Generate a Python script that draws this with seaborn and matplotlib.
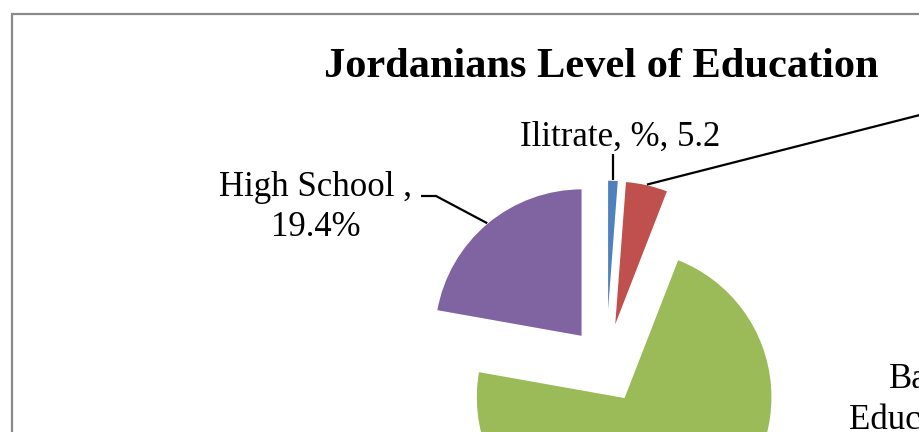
import numpy as np
import matplotlib
matplotlib.use("Agg")
import matplotlib.pyplot as plt
import seaborn as sns
from matplotlib.patches import Rectangle

# Data (slice sizes, labels as printed in the chart)
categories = ["Ilitrate", "Read & Write", "Basic Education", "High School"]
values = [1.2, 4.7, 71.9, 22.2]
label_texts = ["Ilitrate, %, 5.2", None, "Basic\nEducation ,", "High School ,\n19.4%"]
colors = ["#4F81BD", "#C0504D", "#9BBB59", "#8064A2"]

W, H = 920, 432

sns.set_theme(style="white")
plt.rcParams['font.family'] = ['Liberation Serif', 'DejaVu Serif']
plt.rcParams['text.color'] = 'black'

fig = plt.figure(figsize=(W / 100, H / 100), dpi=100)
ax = fig.add_axes([0, 0, 1, 1])

# pie in pixel space (y up), Excel style: start at 12 o'clock, clockwise
center = (606, H - 365)
radius = 148
explode = 0.25 * radius  # matplotlib offsets in data units
wedges, _ = ax.pie(values, colors=sns.color_palette(colors), startangle=90,
                   counterclock=False, explode=[explode] * len(values),
                   center=center, radius=radius,
                   wedgeprops=dict(edgecolor="white", linewidth=1))

ax.set_xlim(0, W)
ax.set_ylim(0, H)
ax.set_aspect("equal")
ax.axis("off")


def arc_mid(w):
    a = np.deg2rad((w.theta1 + w.theta2) / 2)
    cx, cy = w.center
    return cx + w.r * np.cos(a), cy + w.r * np.sin(a)


lc = dict(color="black", lw=1.6, solid_capstyle="butt")
fs = 25

# Ilitrate leader + label
bx, by = arc_mid(wedges[0])
ax.plot([bx, bx], [by, H - 154], **lc)
ax.text(620, H - 137, label_texts[0], ha="center", va="center", fontsize=fs)

# Read & Write leader (label is outside the crop)
rx, ry = arc_mid(wedges[1])
ax.plot([rx, rx + 320], [ry, ry + 320 * 0.255], **lc)

# Basic Education label (cut by the crop, as in the source)
ax.text(928, H - 400, label_texts[2], ha="center", va="center", fontsize=fs,
        linespacing=1.28)

# High School leader + label
px, py = arc_mid(wedges[3])
ax.plot([px, 436, 421], [py, H - 196, H - 196], **lc)
ax.text(316, H - 208, label_texts[3], ha="center", va="center", fontsize=fs,
        linespacing=1.28)

# title
ax.text(601, H - 67, "Jordanians Level of Education", ha="center", va="center",
        fontsize=30.5, fontweight="bold")

# chart area border (continues past the crop)
ax.add_patch(Rectangle((12, -100), 1100, H - 14 + 100, fill=False,
                       edgecolor="#8a8a8a", lw=1.6, clip_on=True))

fig.savefig("out.png", dpi=100)
